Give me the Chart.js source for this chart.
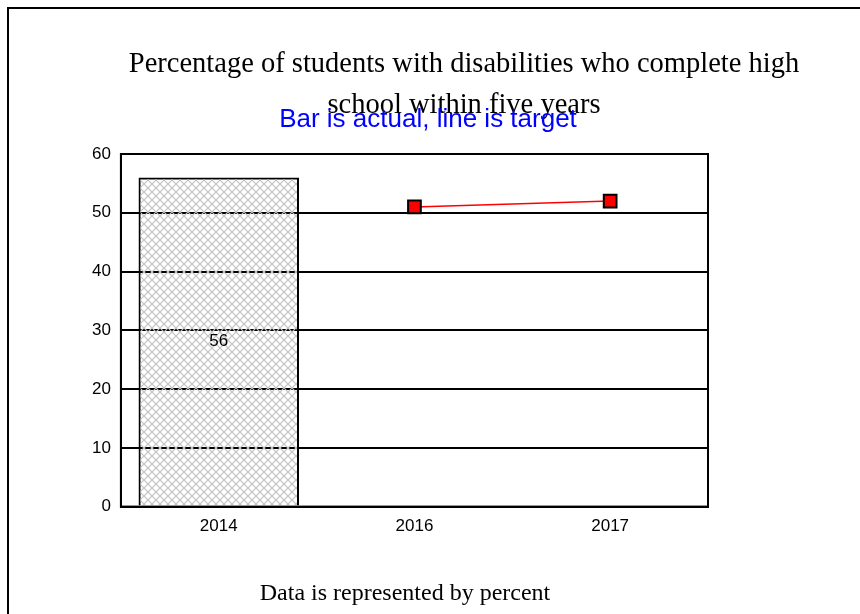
<!DOCTYPE html>
<html>
<head>
<meta charset="utf-8">
<script src="https://cdn.jsdelivr.net/npm/chart.js@4.4.1/dist/chart.umd.min.js"></script>
<style>
  body { margin: 0; background: #fff; }
  #wrap { position: relative; width: 860px; height: 614px; }
  #frame {
    position: absolute; left: 7px; top: 7px; right: 0; bottom: 0;
    border-left: 2px solid #000; border-top: 2px solid #000;
    pointer-events: none;
  }
</style>
</head>
<body>
<div id="wrap">
  <canvas id="chart" width="860" height="614"></canvas>
  <div id="frame"></div>
</div>
<script>
// data
var years = ["2014", "2016", "2017"];
var actual = [56, null, null];
var target = [null, 51, 52];
var yTicks = [0, 10, 20, 30, 40, 50, 60];

var titleLines = ["Percentage of students with disabilities who complete high", "school within five years"];
var subTitle = "Bar is actual, line is target";
var footNote = "Data is represented by percent";

// crosshatch fill for the bar (see-through, so grid shows in the gaps)
function makeHatch() {
  var c = document.createElement("canvas");
  c.width = 8;
  c.height = 8;
  var g = c.getContext("2d");
  g.strokeStyle = "#c2c2c2";
  g.lineWidth = 1.2;
  g.beginPath();
  g.moveTo(0, 0); g.lineTo(8, 8);
  g.moveTo(8, 0); g.lineTo(0, 8);
  g.stroke();
  return document.getElementById("chart").getContext("2d").createPattern(c, "repeat");
}

var tickFont = { family: "'Liberation Sans', Arial, sans-serif", size: 17 };

// texts, plot frame and bar value label
var extras = {
  id: "extras",
  afterDraw: function (chart) {
    var ctx = chart.ctx;
    var a = chart.chartArea;
    var meta = chart.getDatasetMeta(0);
    ctx.save();
    ctx.strokeStyle = "#000";
    ctx.lineWidth = 2;
    ctx.strokeRect(a.left, a.top, a.right - a.left, a.bottom - a.top);

    // value label inside the bar
    ctx.fillStyle = "#000";
    ctx.font = "17px 'Liberation Sans', Arial, sans-serif";
    ctx.textAlign = "center";
    ctx.textBaseline = "middle";
    meta.data.forEach(function (bar, i) {
      if (actual[i] == null) return;
      ctx.fillText(String(actual[i]), bar.x, (bar.y + bar.base) / 2);
    });

    ctx.textBaseline = "alphabetic";
    ctx.font = "28.5px 'Liberation Serif', 'Times New Roman', serif";
    ctx.fillText(titleLines[0], 464, 72);
    ctx.fillText(titleLines[1], 464, 113);

    ctx.fillStyle = "#0000ff";
    ctx.font = "26px 'Liberation Sans', Arial, sans-serif";
    ctx.fillText(subTitle, 428, 127);

    ctx.fillStyle = "#000";
    ctx.font = "24px 'Liberation Serif', 'Times New Roman', serif";
    ctx.fillText(footNote, 405, 600);
    ctx.restore();
  }
};

new Chart(document.getElementById("chart"), {
  data: {
    labels: years,
    datasets: [
      {
        type: "bar",
        label: "Actual",
        data: actual,
        backgroundColor: makeHatch(),
        borderColor: "#000",
        borderWidth: 2,
        barPercentage: 0.82,
        categoryPercentage: 1,
        order: 2
      },
      {
        type: "line",
        label: "Target",
        data: target,
        borderColor: "#ff0000",
        borderWidth: 1.5,
        pointStyle: "rect",
        pointRadius: 9,
        pointBackgroundColor: "#ff0000",
        pointBorderColor: "#000",
        pointBorderWidth: 2,
        spanGaps: true,
        order: 1
      }
    ]
  },
  options: {
    responsive: false,
    animation: false,
    events: [],
    layout: { padding: { top: 154, left: 82, right: 152, bottom: 67 } },
    plugins: {
      legend: { display: false },
      tooltip: { enabled: false }
    },
    scales: {
      x: {
        grid: { display: false, drawTicks: false, tickLength: 0 },
        border: { color: "#000", width: 2 },
        ticks: { color: "#000", padding: 10, font: tickFont }
      },
      y: {
        min: 0,
        max: 60,
        afterBuildTicks: function (axis) {
          axis.ticks = yTicks.map(function (v) { return { value: v }; });
        },
        grid: { color: "#000", lineWidth: 2, drawTicks: false, tickLength: 0 },
        border: { color: "#000", width: 2 },
        ticks: { color: "#000", padding: 10, font: tickFont }
      }
    }
  },
  plugins: [extras]
});
</script>
</body>
</html>
